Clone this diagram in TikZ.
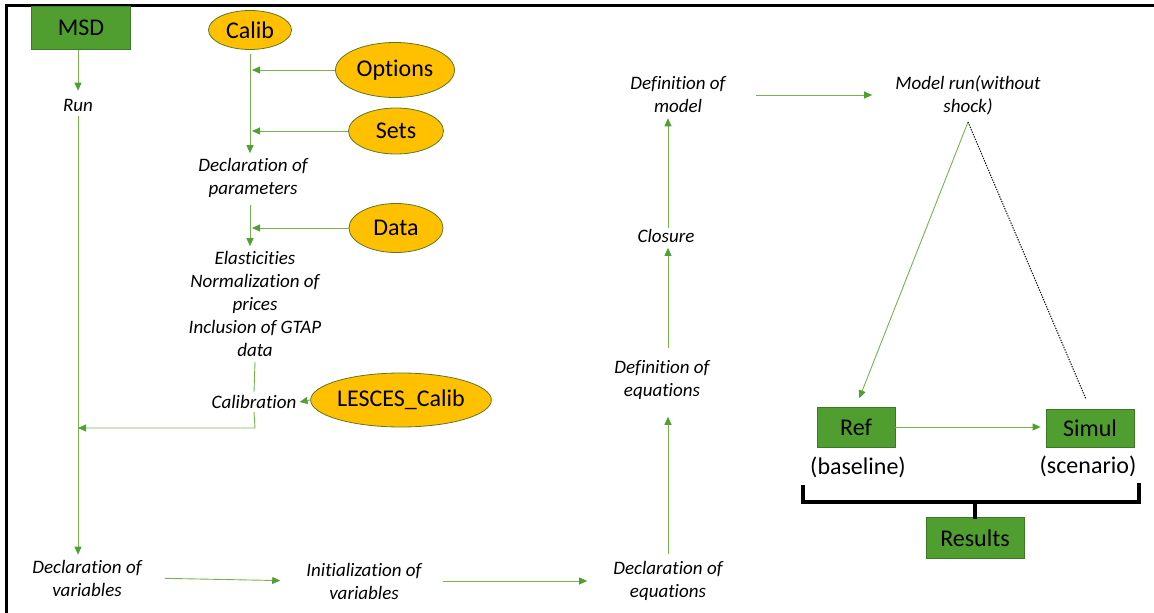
\documentclass[tikz,border=0pt]{standalone}
\usepackage{fontspec}
\setmainfont{Carlito}[Ligatures=NoCommon]
\usetikzlibrary{arrows.meta,shapes.geometric}
\definecolor{linegreen}{RGB}{120,178,80}
\definecolor{tipgreen}{RGB}{80,160,50}
\definecolor{boxgreen}{RGB}{80,158,47}
\definecolor{boxline}{RGB}{60,120,38}
\definecolor{gold}{RGB}{255,192,0}
\definecolor{goldline}{RGB}{90,120,40}
\tikzset{
	box/.style={draw=boxline,line width=0.8pt,fill=boxgreen,inner sep=0pt,font=\fontsize{24}{29}\selectfont},
	oval/.style={ellipse,draw=goldline,line width=0.8pt,fill=gold,inner sep=0pt,font=\fontsize{24}{29}\selectfont},
	txt/.style={align=center,inner sep=5pt,font=\fontsize{19}{23}\selectfont\itshape},
	note/.style={inner sep=0pt,font=\fontsize{24}{29}\selectfont},
	arr/.style={draw=linegreen,line width=0.9pt,-{Triangle[length=8pt,width=7pt,color=tipgreen]}},
	link/.style={draw=linegreen,line width=0.9pt},
	bracket/.style={line width=4pt,line cap=rect}
}
\begin{document}
\begin{tikzpicture}[x=1pt,y=-1pt]
	\useasboundingbox (0,0) rectangle (1154,613);
	\draw[line width=3pt] (6,613)--(6,5)--(1154,5);	%frame
	
	%LEFT COLUMN
	\node[box,minimum width=99pt,minimum height=43pt] (msd) at (81,28) {MSD};
	\node[txt] (run) at (78,105) {Run};
	\node[txt] (decvar) at (87,578) {Declaration of\\variables};
	
	%CALIBRATION BLOCK
	\node[oval,minimum width=83pt,minimum height=39pt] (calib) at (250,30) {Calib};
	\node[oval,minimum width=119pt,minimum height=55pt] (options) at (395,70) {Options};
	\node[oval,minimum width=95pt,minimum height=46pt] (sets) at (396,131) {Sets};
	\node[txt] (decpar) at (253,178) {Declaration of\\parameters};
	\node[oval,minimum width=94pt,minimum height=49pt] (data) at (396,228) {Data};
	\node[txt] (elast) at (255,304) {Elasticities\\Normalization of\\prices\\Inclusion of GTAP\\data};
	\node[txt,inner sep=3pt] (calibr) at (254,402) {Calibration};
	\node[oval,minimum width=179pt,minimum height=54pt] (lesces) at (401,400) {LESCES\_Calib};
	
	%BOTTOM ROW AND MIDDLE COLUMN
	\node[txt] (initvar) at (364,581) {Initialization of\\variables};
	\node[txt] (decequ) at (668,581) {Declaration of\\equations};
	\node[txt] (defequ) at (662,380) {Definition of\\equations};
	\node[txt] (closure) at (666,236) {Closure};
	\node[txt] (defmod) at (678,95) {Definition of\\model};
	\node[txt] (modrun) at (968,95) {Model run(without\\shock)};
	
	%RESULTS
	\node[box,minimum width=78pt,minimum height=40pt] (ref) at (856,427) {Ref};
	\node[box,minimum width=88pt,minimum height=38pt] (simul) at (1090,428) {Simul};
	\node[note] (base) at (858,467) {(baseline)};
	\node[note] (scen) at (1088,466) {(scenario)};
	\node[box,minimum width=98pt,minimum height=41pt] (results) at (975,538) {Results};
	
	%ARROWS
	\draw[arr,shorten >=3pt] (msd.south -| run.north)--(run.north);
	\draw[arr] (run.south)--(run.south |- decvar.north);
	\draw[link,shorten <=4pt] (calib.south)--(calib.south |- options.west);
	\draw[arr] (calib.south |- options.west)--(calib.south |- decpar.north);
	\draw[arr,shorten >=2pt] (options.west)--(options.west -| calib.south);
	\draw[arr,shorten >=2pt] (sets.west)--(sets.west -| calib.south);
	\draw[arr,shorten <=2pt] (decpar.south -| calib.south)--(elast.north -| calib.south);
	\draw[arr,shorten >=2pt] (data.west)--(data.west -| calib.south);
	\draw[link] (elast.south)--(calibr.north);
	\coordinate (calj) at (255,428);
	\draw[arr] (calibr.south)--(calj)--(run.south |- calj);
	\draw[arr] (lesces.west)--(calibr.east);
	\draw[arr,shorten <=18pt,shorten >=21pt] (decvar.east)--(initvar.west);
	\draw[arr,shorten <=16pt,shorten >=21pt] (initvar.east)--(decequ.west);
	\draw[arr,shorten <=2pt,shorten >=12pt] (decequ.north)--(decequ.north |- defequ.south);
	\draw[arr,shorten <=7pt] (decequ.north |- defequ.north)--(decequ.north |- closure.south);
	\draw[arr,shorten <=-4pt] (decequ.north |- closure.north)--(decequ.north |- defmod.south);
	\draw[arr,shorten <=25pt,shorten >=18pt] (defmod.east)--(modrun.west);
	\coordinate (apex) at (968,122);
	\draw[arr,shorten >=9pt] (apex)--(ref.north);
	\draw[line width=1pt,dash pattern=on 1.3pt off 1.3pt,shorten >=10pt] (apex)--(simul.north);
	\draw[arr,shorten >=5pt] (ref.east)--(ref.east -| simul.west);
	
	%BRACKET
	\draw[bracket] (803,487)--++(0,15) coordinate (bm) -| (1139,485);
	\draw[bracket] (results.north)--(results.north |- bm);
\end{tikzpicture}
\end{document}
